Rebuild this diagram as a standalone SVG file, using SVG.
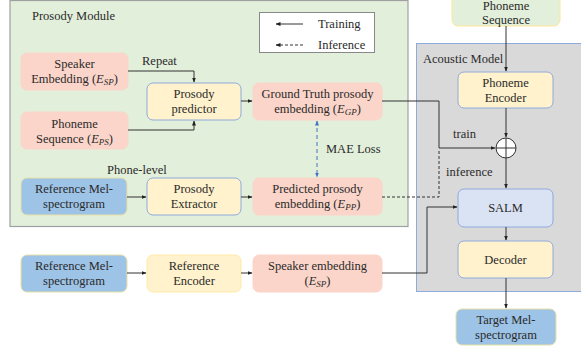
<svg xmlns="http://www.w3.org/2000/svg" width="581" height="349" viewBox="0 0 581 349" font-family="'Liberation Serif', 'Times New Roman', serif">
<defs>
<marker id="ah" viewBox="0 0 10 10" refX="9" refY="5" markerWidth="5" markerHeight="5" orient="auto-start-reverse"><path d="M0,1 L10,5 L0,9 z" fill="#222"/></marker>
<marker id="ahb" viewBox="0 0 10 10" refX="9" refY="5" markerWidth="5" markerHeight="5" orient="auto-start-reverse"><path d="M0,1 L10,5 L0,9 z" fill="#4472c4"/></marker>
<style>
text{font-family:'Liberation Serif','Times New Roman',serif;font-size:12.5px;fill:#2a2a2a}
.c{text-anchor:middle}
.pink{fill:#fbd5c9;stroke:#fbd5c9}
.yel{fill:#fff2cc;stroke:#8faadc;stroke-width:1}
.yel2{fill:#fff2cc;stroke:#ffe9a8;stroke-width:1}
.blue{fill:#9dc3e6;stroke:#e8e0a8;stroke-width:1}
.salm{fill:#dae3f3;stroke:#8faadc;stroke-width:1}
.ln{fill:none;stroke:#333;stroke-width:1}
.arr{marker-end:url(#ah)}
.dash{stroke-dasharray:2,2}
.i{font-style:italic}
.s{font-size:9px;font-style:italic}
</style>
</defs>
<!-- containers -->
<rect x="10" y="0.5" width="398" height="226" fill="#e2efda" stroke="#a0a0a0" stroke-width="1.2"/>
<text x="32" y="20">Prosody Module</text>
<rect x="416.5" y="43.5" width="166" height="248" fill="#d9d9d9" stroke="#8faadc" stroke-width="1"/>
<text x="423" y="63">Acoustic Model</text>
<!-- legend -->
<g id="legend">
<rect x="259.5" y="12.5" width="115" height="40" fill="#fff" stroke="#888"/>
<line x1="303" y1="24" x2="276" y2="24" class="ln arr"/>
<line x1="303" y1="45" x2="276" y2="45" class="ln arr" stroke-dasharray="3,2" stroke-width="0.8"/>
<text x="318" y="28">Training</text>
<text x="318" y="49">Inference</text>
</g>
<!-- nodes -->
<g id="spk_emb"><rect x="21" y="53" width="107" height="37" rx="6" class="pink"/>
<text x="74.5" y="68" class="c">Speaker</text>
<text x="74.5" y="83" class="c">Embedding (<tspan class="i">E</tspan><tspan class="s" dy="2">SP</tspan><tspan dy="-2">)</tspan></text></g>
<g id="ph_seq"><rect x="21" y="112" width="107" height="37" rx="6" class="pink"/>
<text x="74.5" y="128" class="c">Phoneme</text>
<text x="74.5" y="143" class="c">Sequence (<tspan class="i">E</tspan><tspan class="s" dy="2">PS</tspan><tspan dy="-2">)</tspan></text></g>
<g id="predictor"><rect x="147" y="83" width="94" height="37" rx="6" class="yel"/>
<text x="194" y="98" class="c">Prosody</text>
<text x="194" y="113" class="c">predictor</text></g>
<g id="gt"><rect x="253" y="83" width="129" height="37" rx="6" class="pink"/>
<text x="317.5" y="98" class="c">Ground Truth prosody</text>
<text x="317.5" y="113" class="c">embedding (<tspan class="i">E</tspan><tspan class="s" dy="2">GP</tspan><tspan dy="-2">)</tspan></text></g>
<g id="refmel1"><rect x="21" y="178" width="106" height="37" rx="6" class="blue"/>
<text x="74" y="193" class="c">Reference Mel-</text>
<text x="74" y="208" class="c">spectrogram</text></g>
<g id="extractor"><rect x="147" y="178" width="94" height="37" rx="6" class="yel"/>
<text x="194" y="193" class="c">Prosody</text>
<text x="194" y="208" class="c">Extractor</text></g>
<g id="pred"><rect x="253" y="178" width="129" height="37" rx="6" class="pink"/>
<text x="317.5" y="193" class="c">Predicted prosody</text>
<text x="317.5" y="208" class="c">embedding (<tspan class="i">E</tspan><tspan class="s" dy="2">PP</tspan><tspan dy="-2">)</tspan></text></g>
<g id="refmel2"><rect x="21" y="255" width="106" height="37" rx="6" class="blue"/>
<text x="74" y="270" class="c">Reference Mel-</text>
<text x="74" y="285" class="c">spectrogram</text></g>
<g id="refenc"><rect x="147" y="255" width="94" height="37" rx="6" class="yel2"/>
<text x="194" y="270" class="c">Reference</text>
<text x="194" y="285" class="c">Encoder</text></g>
<g id="spk2"><rect x="253" y="255" width="129" height="37" rx="6" class="pink"/>
<text x="317.5" y="270" class="c">Speaker embedding</text>
<text x="317.5" y="285" class="c">(<tspan class="i">E</tspan><tspan class="s" dy="2">SP</tspan><tspan dy="-2">)</tspan></text></g>
<g id="phseq_top"><rect x="452" y="-6" width="108" height="32" rx="6" fill="#e2efda" stroke="#ffe699"/>
<text x="506" y="10" class="c">Phoneme</text>
<text x="506" y="24" class="c">Sequence</text></g>
<g id="phenc"><rect x="458" y="72" width="95" height="36" rx="6" class="yel"/>
<text x="505.5" y="87" class="c">Phoneme</text>
<text x="505.5" y="102" class="c">Encoder</text></g>
<g id="plus"><circle cx="506" cy="148" r="10" fill="#fff" stroke="#333"/>
<line x1="496" y1="148" x2="516" y2="148" stroke="#333"/><line x1="506" y1="138" x2="506" y2="158" stroke="#333"/></g>
<g id="salm"><rect x="458" y="189" width="95" height="38" rx="6" class="salm"/>
<text x="505.5" y="212" class="c">SALM</text></g>
<g id="decoder"><rect x="458" y="241" width="95" height="37" rx="6" class="yel"/>
<text x="505.5" y="264" class="c">Decoder</text></g>
<g id="target"><rect x="456" y="309" width="100" height="36" rx="6" class="blue"/>
<text x="506" y="324" class="c">Target Mel-</text>
<text x="506" y="339" class="c">spectrogram</text></g>
<!-- connectors -->
<g id="connectors">
<path d="M128,71 H194 V82" class="ln arr"/>
<path d="M128,130 H194 V121" class="ln arr"/>
<path d="M241,101 H252" class="ln arr"/>
<path d="M127,197 H146" class="ln arr"/>
<path d="M241,197 H252" class="ln arr"/>
<path d="M127,273 H146" class="ln arr"/>
<path d="M241,273 H252" class="ln arr"/>
<path d="M382,101 H439 V148 H495" class="ln arr"/>
<path d="M382,197 H439 V149" class="ln" stroke="#777" stroke-dasharray="3,2"/>
<path d="M382,273 H427 V207 H457" class="ln arr"/>
<path d="M506,26 V71" class="ln arr"/>
<path d="M506,108 V137" class="ln arr"/>
<path d="M506,158 V188" class="ln arr"/>
<path d="M506,227 V240" class="ln arr"/>
<path d="M506,278 V308" class="ln arr"/>
<path d="M317,121 V177" fill="none" stroke="#4472c4" stroke-width="1" stroke-dasharray="4,3" marker-start="url(#ahb)" marker-end="url(#ahb)"/>
</g>
<text x="142" y="65">Repeat</text>
<text x="107" y="174">Phone-level</text>
<text x="326" y="153">MAE Loss</text>
<text x="453" y="138">train</text>
<text x="446" y="176">inference</text>
</svg>
